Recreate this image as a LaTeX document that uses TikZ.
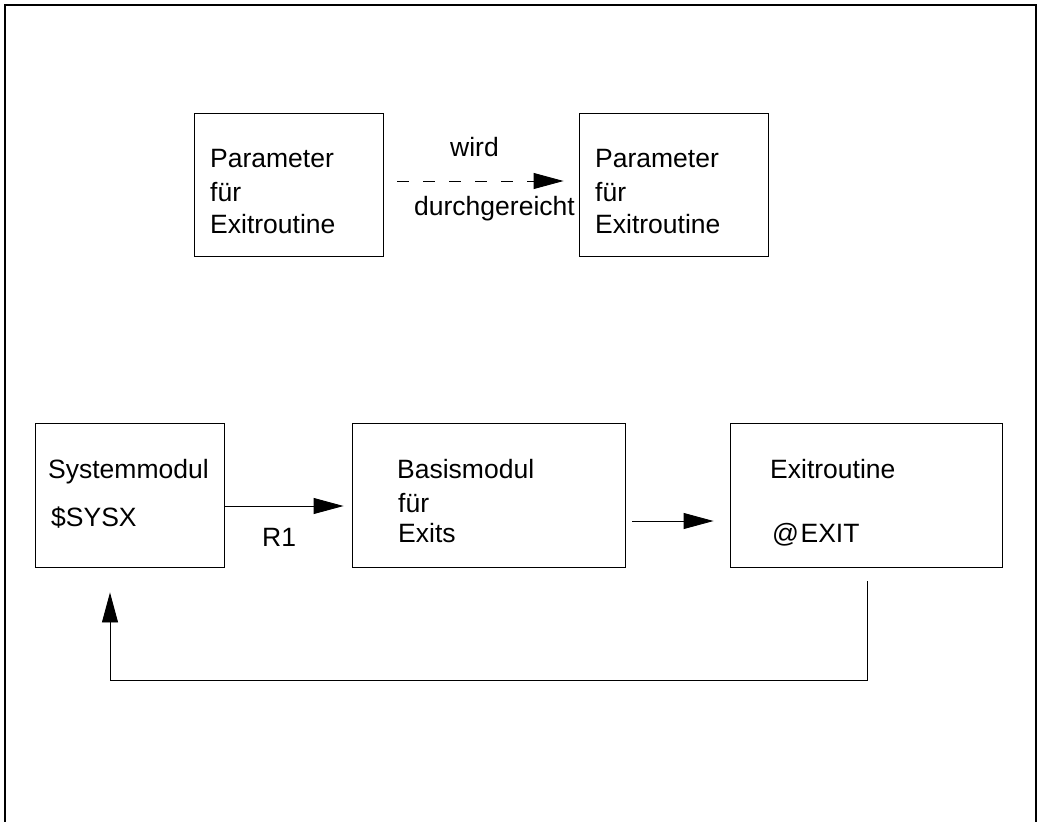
\documentclass[tikz,border=0pt]{standalone}
\usepackage{fontspec}
\setmainfont{Liberation Sans}
\usetikzlibrary{arrows.meta}
\begin{document}
\begin{tikzpicture}[x=1pt,y=-1pt,
  box/.style={draw,line width=0.9pt,inner sep=0pt,rectangle},
  lbl/.style={anchor=base west,inner sep=0pt,font=\fontsize{26.5}{32}\selectfont},
  conn/.style={line width=0.9pt,-{Triangle[length=30pt,width=16pt]}},
  dashconn/.style={conn,dash pattern=on 12pt off 14pt}]
\useasboundingbox (0,0) rectangle (1039,822);
% outer frame, open at the bottom
\draw[line width=1.2pt] (5,822) -- (5,5) -- (1036,5) -- (1036,822);

% upper row
\node[box,minimum width=189pt,minimum height=143pt] (p1) at (288.5,184.5) {};
\node[box,minimum width=189pt,minimum height=143pt] (p2) at (673.5,184.5) {};
\node[lbl] (p1a) at (210,167) {Parameter};
\node[lbl] (p1b) at (210,201) {für};
\node[lbl] (p1c) at (210,233) {Exitroutine};
\node[lbl] (p2a) at (595,167) {Parameter};
\node[lbl] (p2b) at (595,201) {für};
\node[lbl] (p2c) at (595,233) {Exitroutine};
\draw[dashconn] ([xshift=14pt,yshift=3.5pt]p1.east) -- ([xshift=-15pt,yshift=3.5pt]p2.west);
\node[lbl] (wird) at (450,156) {wird};
\node[lbl] (durch) at (414,215) {durchgereicht};

% lower row
\node[box,minimum width=189pt,minimum height=144pt] (sys) at (129.5,495) {};
\node[box,minimum width=273pt,minimum height=144pt] (bas) at (488.5,495) {};
\node[box,minimum width=272pt,minimum height=144pt] (exr) at (866,495) {};
\node[lbl] (sysa) at (48,478) {Systemmodul};
\node[lbl] (sysb) at (51,526) {\$SYSX};
\node[lbl] (basa) at (397,478) {Basismodul};
\node[lbl] (basb) at (398,512) {für};
\node[lbl] (basc) at (398,542) {Exits};
\node[lbl] (exra) at (770,478) {Exitroutine};
\node[lbl] (exrb) at (772,542) {@\kern1.5pt EXIT};
\node[lbl] (r1) at (262,546) {R1};

\draw[conn] ([yshift=-11pt]sys.east) -- ([xshift=-8pt,yshift=-11pt]bas.west);
\draw[conn] ([xshift=7pt,yshift=-26pt]bas.east) -- ([xshift=-16pt,yshift=-26pt]exr.west);

% return path
\coordinate (c1) at (867,680);
\coordinate (c2) at (110,680);
\draw[conn] ([xshift=1pt,yshift=-14pt]exr.south) -- (c1) -- (c2) -- ([xshift=-19.5pt,yshift=-25pt]sys.south);
\end{tikzpicture}
\end{document}
